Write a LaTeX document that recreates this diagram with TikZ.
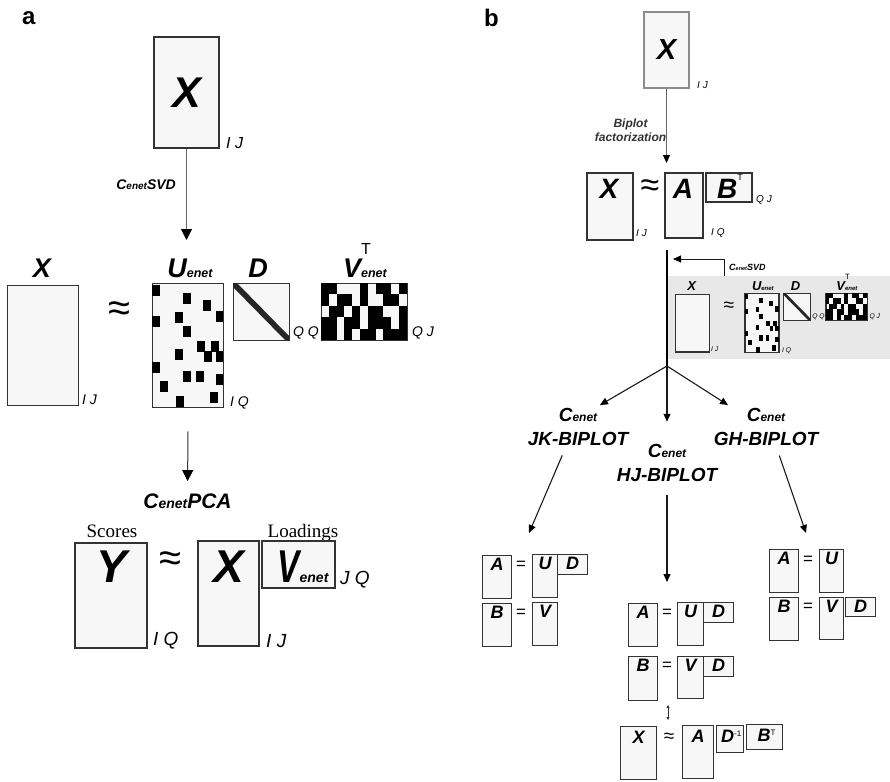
\documentclass[tikz,border=0pt]{standalone}
\usepackage{fontspec}
\setmainfont{Liberation Sans}
\newfontfamily\timesfont{Liberation Serif}
\usetikzlibrary{arrows.meta, positioning, calc}

\newcommand{\fsz}[1]{\fontsize{#1}{#1}\selectfont}
\newcommand{\enet}[1]{{\fsz{#1}enet}}

% one factorization row X ~ U D V^T, origin at the top left of the X box
\newcommand{\svdrow}[1]{%
  \node[mat, anchor=north west, minimum width=71pt, minimum height=120pt] (#1X) at (0,2) {};
  \node[mlab] (#1Xl) at (35,-6) {X};
  \node[dim] (#1Xd) at (75,117) {I J};
  \node[font=\fsz{40}, inner sep=0pt] (#1eq) at (112,29) {≈};
  \node[mat, anchor=north west, minimum width=71pt, minimum height=124pt] (#1U) at (145,0) {};
  \foreach \bx/\by in {0/2, 31/10, 51/17, 0/33, 23/29, 63.5/28, 31/43, 45/58, 52/68, 59/58, 63.5/68,
      23/66, 0/79, 31/88, 44/88, 63.5/91, 8/98, 24/113, 58/109}
    \fill (145+\bx,\by) rectangle ++(7.5,11);
  \node[mlab] (#1Ul) at (183,-6) {U\enet{12.5}};
  \node[dim] (#1Ud) at (223,120) {I Q};
  \node[mat, anchor=north west, minimum width=56pt, minimum height=57pt] (#1D) at (226,0) {};
  \fill[black!85] (226,0) -- (230,0) -- (282,53) -- (282,57) -- (278,57) -- (226,4) -- cycle;
  \node[mlab] (#1Dl) at (251,-6) {D};
  \node[dim] (#1Dd) at (286,50) {Q Q};
  \node[mat, anchor=north west, minimum width=86pt, minimum height=57pt] (#1V) at (314,0) {};
  \foreach \c/\r in {0/0,1/0,5/0,7/0,8/0,10/0, 0/1,2/1,3/1,5/1,8/1,9/1, 1/2,2/2,4/2,6/2,7/2,10/2,
      0/3,1/3,3/3,4/3,6/3,7/3,8/3,10/3, 0/4,1/4,3/4,5/4,6/4,8/4,9/4,10/4}
    \fill (314+7.8*\c,11.4*\r) rectangle ++(7.8,11.4);
  \node[mlab] (#1Vl) at (358,-6) {V\rlap{\raisebox{23pt}{\mdseries\upshape\fsz{16}T}}\enet{12.5}};
  \node[dim] (#1Vd) at (405,50) {Q J};
}

\begin{document}
\begin{tikzpicture}[x=1pt, y=-1pt,
    mat/.style={draw=black!80, fill=black!3, line width=1.3pt, inner sep=0pt},
    mlab/.style={font=\bfseries\itshape\fsz{27}, anchor=base, inner sep=0pt},
    blab/.style={font=\bfseries\itshape\fsz{46}, anchor=base, inner sep=0pt},
    rlab/.style={font=\bfseries\itshape\fsz{28}, anchor=base, inner sep=0pt},
    slab/.style={font=\bfseries\itshape\fsz{18}, anchor=north, inner sep=0pt},
    eqs/.style={font=\fsz{17}, inner sep=0pt},
    dim/.style={font=\itshape\fsz{14}, anchor=west, inner sep=0pt},
    blt/.style={font=\bfseries\itshape\fontsize{19}{24}\selectfont, align=center, inner sep=3pt},
    arr/.style={-{Triangle[length=11pt, width=11pt, color=black]}, line width=1pt, black!80},
    sarr/.style={-{Triangle[length=8pt, width=7pt, color=black]}, line width=1.1pt, black!90}]
  \useasboundingbox (0,0) rectangle (890,781);

  % ---- panel a
  \node[font=\bfseries\fsz{24}, anchor=base west, inner sep=0pt] (pa) at (22,25) {a};
  \node[mat, minimum width=65pt, minimum height=111pt, font=\bfseries\itshape\fsz{43}] (Xa) at (186.5,92.5) {X};
  \node[dim, font=\itshape\fsz{16}] (Xad) at (226,143) {I J};
  \coordinate (svdtip) at (186.5,240);
  \draw[arr, black!60] (Xa.south) -- (svdtip);
  \node[font=\bfseries\itshape\fsz{14}, anchor=east, inner sep=0pt] (svda) at (176,185) {C\enet{10}SVD};

  \begin{scope}[shift={(7,283)}]
    \svdrow{a}
  \end{scope}

  \node[font=\bfseries\itshape\fsz{21}, anchor=base, inner sep=0pt] (pca) at (187.5,508) {C\enet{14}PCA};
  \draw[arr, shorten <=23pt, shorten >=12pt] (aU.south) -- (pca.north);

  \node[font=\timesfont\fsz{19}, anchor=base] (scores) at (112,537) {Scores};
  \node[font=\timesfont\fsz{19}, anchor=base] (loads) at (303,537) {Loadings};
  \node[mat, minimum width=72pt, minimum height=105pt] (Yc) at (111,595.5) {};
  \node[blab] (Ycl) at (112,582) {Y};
  \node[font=\fsz{40}, inner sep=0pt] (eqc) at (170,562) {≈};
  \node[mat, minimum width=61pt, minimum height=105pt] (Xc) at (228.5,593.5) {};
  \node[blab] (Xcl) at (229,582) {X};
  \node[mat, minimum width=73pt, minimum height=47pt] (Vc) at (298.5,564.5) {};
  \node[blab] (Vcl) at (303,582) {\scalebox{0.72}[1]{V}\enet{14}};
  \node[dim, font=\itshape\fsz{19}] (Vcd) at (340,580) {J Q};
  \node[dim, font=\itshape\fsz{19}] (Ycd) at (153,641) {I Q};
  \node[dim, font=\itshape\fsz{19}] (Xcd) at (266,641) {I J};

  % ---- panel b
  \node[font=\bfseries\fsz{24}, anchor=base west, inner sep=0pt] (pb) at (484,27) {b};
  \node[mat, draw=black!45, minimum width=45pt, minimum height=76pt, font=\bfseries\itshape\fsz{29}] (Xb) at (666.5,50) {X};
  \node[dim, font=\itshape\fsz{10}] (Xbd) at (697,85) {I J};
  \node[font=\bfseries\itshape\fontsize{12}{14}\selectfont, align=center, text=black!80, inner sep=0pt] (bifac) at (630.5,130) {Biplot\\factorization};
  \coordinate (bftip) at (666.5,163);
  \draw[sarr, black!60, line width=0.9pt] (Xb.south) -- (bftip);

  \node[mat, minimum width=46pt, minimum height=67pt] (Xr) at (610,206.5) {};
  \node[rlab] (Xrl) at (609,198) {X};
  \node[font=\fsz{34}, inner sep=0pt] (eqr) at (650,188) {≈};
  \node[mat, minimum width=38pt, minimum height=65pt] (Ar) at (684,205.5) {};
  \node[rlab] (Arl) at (683,198) {A};
  \node[mat, minimum width=46pt, minimum height=29pt] (Br) at (729,187.5) {};
  \node[rlab] (Brl) at (730,198) {B\raisebox{18pt}{\mdseries\upshape\fsz{9}T}};
  \node[dim, font=\itshape\fsz{10}] (Xrd) at (636,233) {I J};
  \node[dim, font=\itshape\fsz{10}] (Ard) at (711,233) {I Q};
  \node[dim, font=\itshape\fsz{10}] (Brd) at (756,200) {Q J};

  \coordinate (spinetop) at (667,250);
  \coordinate (split) at (667,366);
  \draw[line width=1.1pt] (spinetop) -- (split);

  % C_enet SVD side step
  \node[fill=black!9, anchor=north west, minimum width=222pt, minimum height=83pt, inner sep=0pt] (svdbg) at (668,276) {};
  \coordinate (svdin) at (673,259);
  \draw[sarr, line width=0.9pt] ([xshift=56pt]svdbg.north west) |- (svdin);
  \node[font=\bfseries\itshape\fsz{9}, anchor=west, inner sep=0pt] (svdb) at (729,267) {C\enet{5.5}SVD};
  \begin{scope}[shift={(675,293)}, scale=0.48, transform shape]
    \svdrow{g}
  \end{scope}

  % the three biplots
  \node[blt] (jk) at (578,427) {C\enet{12}\\JK-BIPLOT};
  \node[blt] (hj) at (667,462.7) {C\enet{12}\\HJ-BIPLOT};
  \node[blt] (gh) at (766,427) {C\enet{12}\\GH-BIPLOT};
  \draw[sarr] (split) -- (jk.45);
  \draw[sarr] (split) -- (gh.150);
  \draw[sarr, shorten >=19pt] (split) -- (hj.north);

  \coordinate (jkend) at (529,533);
  \coordinate (hjend) at (667,582);
  \coordinate (ghend) at (806,533);
  \draw[sarr, shorten <=7pt] ([xshift=-13pt]jk.south) -- (jkend);
  \draw[sarr, shorten <=10pt] (hj.south) -- (hjend);
  \draw[sarr, shorten <=7pt] ([xshift=11pt]gh.south) -- (ghend);

  % JK: A = UD, B = V
  \node[mat, anchor=north west, minimum width=29pt, minimum height=43pt] (lA) at (482,555) {};
  \node[slab] (lAl) at ([yshift=-3pt]lA.north) {A};
  \node[eqs] (lE1) at (521,565) {=};
  \node[mat, anchor=north west, minimum width=25pt, minimum height=43pt] (lU) at (532,554) {};
  \node[slab] (lUl) at ([yshift=-3pt]lU.north) {U};
  \node[mat, anchor=north west, minimum width=30pt, minimum height=20pt] (lD) at (557,554) {};
  \node[slab] (lDl) at ([yshift=-3pt]lD.north) {D};
  \node[mat, anchor=north west, minimum width=29pt, minimum height=43pt] (lB) at (482,603) {};
  \node[slab] (lBl) at ([yshift=-3pt]lB.north) {B};
  \node[eqs] (lE2) at (521,613) {=};
  \node[mat, anchor=north west, minimum width=25pt, minimum height=43pt] (lV) at (532,602) {};
  \node[slab] (lVl) at ([yshift=-3pt]lV.north) {V};

  % HJ: A = UD, B = VD
  \node[mat, anchor=north west, minimum width=29pt, minimum height=43pt] (mA) at (628,603) {};
  \node[slab] (mAl) at ([yshift=-3pt]mA.north) {A};
  \node[eqs] (mE1) at (667,613) {=};
  \node[mat, anchor=north west, minimum width=26pt, minimum height=43pt] (mU) at (677,602) {};
  \node[slab] (mUl) at ([yshift=-3pt]mU.north) {U};
  \node[mat, anchor=north west, minimum width=30pt, minimum height=20pt] (mD) at (703,602) {};
  \node[slab] (mDl) at ([yshift=-3pt]mD.north) {D};
  \node[mat, anchor=north west, minimum width=29pt, minimum height=44pt] (mB) at (628,656) {};
  \node[slab] (mBl) at ([yshift=-3pt]mB.north) {B};
  \node[eqs] (mE2) at (667,666) {=};
  \node[mat, anchor=north west, minimum width=26pt, minimum height=42pt] (mV) at (677,656) {};
  \node[slab] (mVl) at ([yshift=-3pt]mV.north) {V};
  \node[mat, anchor=north west, minimum width=30pt, minimum height=20pt] (mD2) at (703,656) {};
  \node[slab] (mD2l) at ([yshift=-3pt]mD2.north) {D};
  \coordinate (ud1) at (668,705);
  \coordinate (ud2) at (668,720);
  \draw[{Triangle[length=3pt,width=3pt]}-{Triangle[length=3pt,width=3pt]}, line width=0.6pt, black!80] (ud1) -- (ud2);
  \node[mat, anchor=north west, minimum width=36pt, minimum height=53pt] (mX) at (620,726) {};
  \node[slab] (mXl) at ([yshift=-5pt]mX.north) {X};
  \node[font=\fsz{19}, inner sep=0pt] (mE3) at (669,738) {≈};
  \node[mat, anchor=north west, minimum width=31pt, minimum height=53pt] (mA2) at (682,725) {};
  \node[slab] (mA2l) at ([yshift=-5pt]mA2.north) {A};
  \node[mat, anchor=north west, minimum width=27pt, minimum height=27pt] (mDi) at (716,725) {};
  \node[slab] (mDil) at ([xshift=1pt, yshift=-5pt]mDi.north) {D\raisebox{6pt}{\mdseries\upshape\fsz{8}-1}};
  \node[mat, anchor=north west, minimum width=36pt, minimum height=25pt] (mBt) at (746,724) {};
  \node[slab] (mBtl) at ([xshift=2pt, yshift=-5pt]mBt.north) {B\raisebox{6pt}{\mdseries\upshape\fsz{8}T}};

  % GH: A = U, B = VD
  \node[mat, anchor=north west, minimum width=29pt, minimum height=43pt] (rA) at (769,549) {};
  \node[slab] (rAl) at ([yshift=-3pt]rA.north) {A};
  \node[eqs] (rE1) at (808,560) {=};
  \node[mat, anchor=north west, minimum width=24pt, minimum height=43pt] (rU) at (819,549) {};
  \node[slab] (rUl) at ([yshift=-3pt]rU.north) {U};
  \node[mat, anchor=north west, minimum width=29pt, minimum height=43pt] (rB) at (769,597) {};
  \node[slab] (rBl) at ([yshift=-3pt]rB.north) {B};
  \node[eqs] (rE2) at (808,607) {=};
  \node[mat, anchor=north west, minimum width=24pt, minimum height=42pt] (rV) at (819,597) {};
  \node[slab] (rVl) at ([yshift=-3pt]rV.north) {V};
  \node[mat, anchor=north west, minimum width=30pt, minimum height=19pt] (rD) at (845,597) {};
  \node[slab] (rDl) at ([yshift=-3pt]rD.north) {D};
\end{tikzpicture}
\end{document}
